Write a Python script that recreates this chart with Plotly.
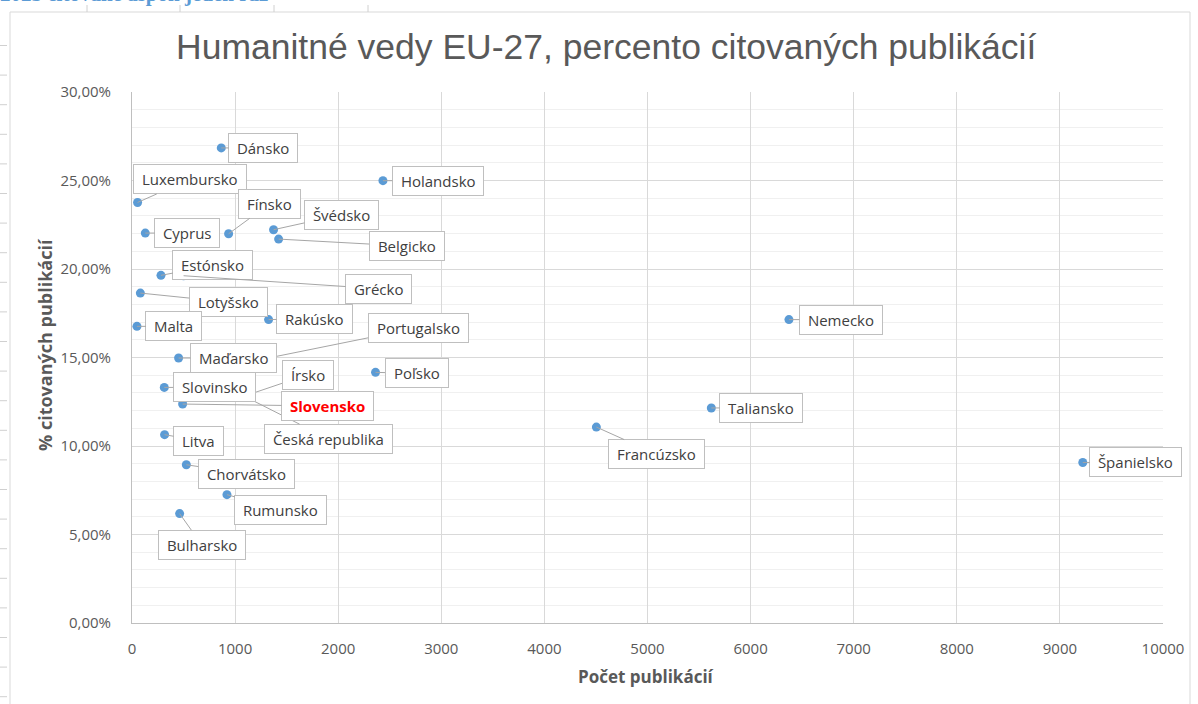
import plotly.graph_objects as go

# ---------------- data ----------------
countries = ["Dánsko", "Holandsko", "Luxembursko", "Fínsko", "Švédsko", "Cyprus",
             "Belgicko", "Estónsko", "Grécko", "Lotyšsko", "Rakúsko", "Malta",
             "Portugalsko", "Maďarsko", "Poľsko", "Írsko", "Česká republika",
             "Slovinsko", "Slovensko", "Litva", "Chorvátsko", "Rumunsko",
             "Bulharsko", "Nemecko", "Taliansko", "Francúzsko", "Španielsko"]
publications = [866, 2434, 54, 937, 1373, 129,
                1422, 281, 500, 81, 1325, 48,
                1050, 452, 2362, 1130, 1080,
                313, 491, 316, 527, 921,
                462, 6372, 5619, 4504, 9222]
cited_pct = [26.84, 24.99, 23.76, 21.99, 22.22, 22.03,
             21.69, 19.64, 19.62, 18.64, 17.14, 16.76,
             14.65, 14.97, 14.16, 12.90, 12.84,
             13.31, 12.37, 10.64, 8.94, 7.25,
             6.18, 17.14, 12.15, 11.07, 9.07]

x_ticks_max = 10000
y_ticks_max = 0.30

title_text = "Humanitné vedy EU-27, percento citovaných publikácií"
x_title = "Počet publikácií"
y_title = "% citovaných publikácií"
page_heading = "2025 citované aspoň jeden raz"
highlight = "Slovensko"

# ---------------- label placement (pixel offsets from the point) ----------------
label_offsets = {
    "Dánsko": (42, 0), "Holandsko": (55, 0), "Luxembursko": (52, -23),
    "Fínsko": (41, -30), "Švédsko": (68, -15), "Cyprus": (42, 0),
    "Belgicko": (128, 7), "Estónsko": (52, -10), "Grécko": (195, 13),
    "Lotyšsko": (88, 9), "Rakúsko": (46, -1), "Malta": (37, 0),
    "Portugalsko": (178, -36), "Maďarsko": (55, 0), "Poľsko": (41, 1),
    "Írsko": (59, -20), "Česká republika": (85, 43), "Slovinsko": (50, 0),
    "Slovensko": (145, 2), "Litva": (34, 6), "Chorvátsko": (60, 9),
    "Rumunsko": (54, 15), "Bulharsko": (22, 31), "Nemecko": (52, 0),
    "Taliansko": (50, 0), "Francúzsko": (60, 27), "Španielsko": (53, 0),
}

W, H = 1198, 704
L, R, T, B = 132, 1163, 92, 623
pw, ph = R - L, B - T


def px(xp):
    return (xp - L) / pw


def py(yp):
    return (B - yp) / ph


FONT = "Open Sans"
GREY = "#595959"
PAD = "\u00a0"

fig = go.Figure()
fig.add_trace(go.Scatter(
    x=publications, y=[v / 100 for v in cited_pct], mode="markers",
    marker=dict(size=9, color="#5B9BD5", line=dict(width=0)),
    hoverinfo="text", text=countries, showlegend=False, cliponaxis=False))

annotations = []
for name, xv, yv in zip(countries, publications, cited_pct):
    dx, dy = label_offsets[name]
    is_hl = name == highlight
    txt = PAD + (f"<b>{name}</b>" if is_hl else name) + PAD
    annotations.append(dict(
        x=xv, y=yv / 100, xref="x", yref="y", text=txt,
        showarrow=True, ax=dx, ay=dy, arrowhead=0, arrowwidth=1,
        arrowcolor="#a6a6a6", standoff=0, startstandoff=0,
        bgcolor="white", bordercolor="#bfbfbf", borderwidth=1, borderpad=4,
        font=dict(family=FONT, size=15, color="#FF0000" if is_hl else "#404040")))

# drawing order: boxes that cover other leaders last
order_last = ["Estónsko", "Grécko", "Maďarsko", "Slovinsko"]
annotations = ([a for a, n in zip(annotations, countries) if n not in order_last] +
               [annotations[countries.index(n)] for n in order_last])

annotations += [
    dict(text=title_text, xref="paper", yref="paper", x=px(606), y=py(47),
         xanchor="center", yanchor="middle", showarrow=False,
         font=dict(family="Liberation Sans", size=35.5, color=GREY)),
    dict(text=f"<b>{x_title}</b>", xref="paper", yref="paper", x=px(646), y=py(676),
         xanchor="center", yanchor="middle", showarrow=False,
         font=dict(family=FONT, size=17, color=GREY)),
    dict(text=f"<b>{y_title}</b>", xref="paper", yref="paper", x=px(45), y=py(345),
         xanchor="center", yanchor="middle", showarrow=False, textangle=-90,
         font=dict(family=FONT, size=18, color=GREY)),
    dict(text=f"<b>{page_heading}</b>", xref="paper", yref="paper", x=px(-2), y=py(8),
         xanchor="left", yanchor="bottom", showarrow=False,
         font=dict(family="Liberation Serif", size=21, color="#5B9BD5")),
]

shapes = [dict(type="rect", xref="paper", yref="paper", x0=px(10), x1=px(1190),
               y0=py(712), y1=py(12), line=dict(color="#d9d9d9", width=1),
               fillcolor="rgba(0,0,0,0)", layer="below")]
# faint page-table marks outside the chart
yy = 45.5
while yy < H:
    shapes.append(dict(type="line", xref="paper", yref="paper", x0=px(0), x1=px(7),
                       y0=py(yy), y1=py(yy), line=dict(color="#d0d0d0", width=1)))
    yy += 29.6
for xx in (87, 180, 274, 368):
    shapes.append(dict(type="line", xref="paper", yref="paper", x0=px(xx), x1=px(xx),
                       y0=py(5), y1=py(12), line=dict(color="#d0d0d0", width=1)))

fig.update_layout(
    width=W, height=H, autosize=False,
    margin=dict(l=L, r=W - R, t=T, b=H - B, pad=0),
    paper_bgcolor="white", plot_bgcolor="white",
    separators=", ",
    annotations=annotations, shapes=shapes,
    font=dict(family=FONT, color=GREY),
)
fig.update_xaxes(
    range=[0, x_ticks_max], dtick=1000, tick0=0, tickformat="d",
    showgrid=True, gridcolor="#d9d9d9", gridwidth=1,
    showline=True, linecolor="#bfbfbf", linewidth=1, zeroline=False,
    ticks="", ticklabelstandoff=12,
    tickfont=dict(family=FONT, size=15, color=GREY))
fig.update_yaxes(
    range=[0, y_ticks_max], dtick=0.05, tick0=0, tickformat=".2%",
    showgrid=True, gridcolor="#d9d9d9", gridwidth=1,
    minor=dict(dtick=0.01, tick0=0, showgrid=True, gridcolor="#f0f0f0", gridwidth=1),
    showline=True, linecolor="#bfbfbf", linewidth=1, zeroline=False,
    ticks="", ticklabelstandoff=17,
    tickfont=dict(family=FONT, size=15, color=GREY))

fig.write_html("out.html", config={"displayModeBar": False},
               post_script="document.body.style.margin='0px';"
                           "document.body.style.overflow='hidden';")
